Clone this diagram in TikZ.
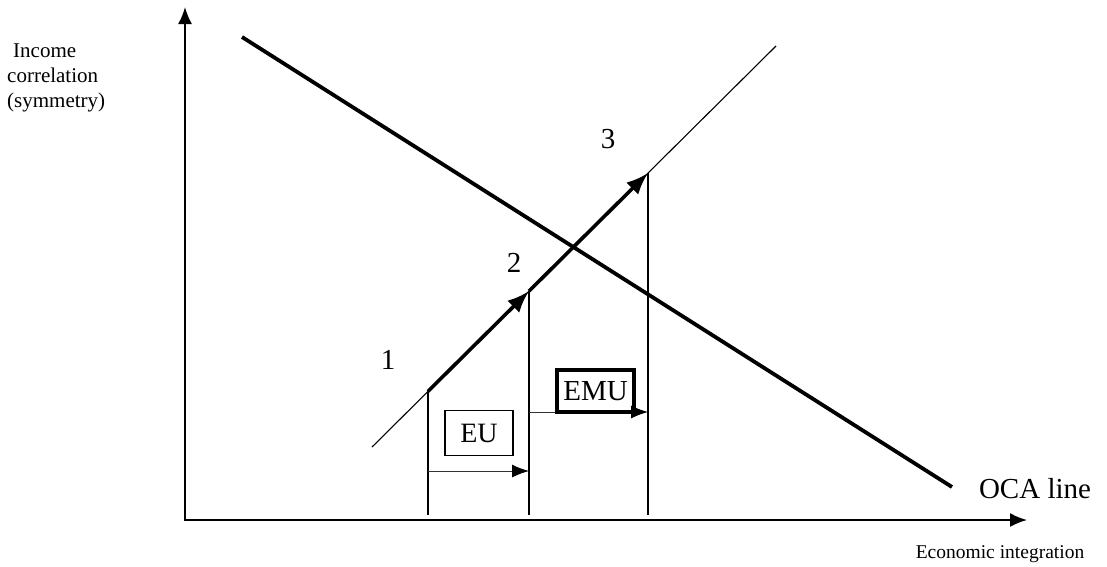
\documentclass[tikz,border=0pt]{standalone}
\usepackage{fontspec}
\setmainfont{Liberation Serif}
\usetikzlibrary{arrows.meta}
\begin{document}
\begin{tikzpicture}[x=1pt,y=-1pt,
  axis/.style={line width=1.8pt,-{Latex[length=17pt,width=14pt]}},
  ocaline/.style={line width=3.8pt},
  thinline/.style={line width=1.1pt},
  fatarrow/.style={line width=3.6pt,-{Latex[length=22pt,width=17pt]}},
  vline/.style={line width=1.5pt},
  smallarrow/.style={line width=1pt,black!80,-{Latex[length=17pt,width=13pt,color=black]}},
  axlabel/.style={font=\fontsize{21}{25}\selectfont,inner sep=0pt},
  xlabelstyle/.style={font=\fontsize{19.5}{23}\selectfont,inner sep=0pt},
  biglabel/.style={font=\fontsize{29}{33}\selectfont,inner sep=0pt},
  eubox/.style={draw,line width=1.3pt,minimum width=68pt,minimum height=45pt,inner sep=0pt,font=\fontsize{28}{32}\selectfont},
  emubox/.style={draw,line width=3.4pt,minimum width=77pt,minimum height=42pt,inner sep=0pt,font=\fontsize{29}{33}\selectfont}
]
\useasboundingbox (0,0) rectangle (1107,566);
% axes
\coordinate (O) at (185,520);
\coordinate (ytop) at (185,7);
\coordinate (xend) at (1027,520);
\draw[axis] ([yshift=0.9pt]O) -- (ytop);
\draw[axis] ([xshift=-0.9pt]O) -- (xend);
% OCA line
\coordinate (oca1) at (242,37);
\coordinate (oca2) at (952,487);
\draw[ocaline] (oca1) -- (oca2);
% 45 degree thin line
\coordinate (d1) at (372,447);
\coordinate (d2) at (776,46);
\draw[thinline] (d1) -- (d2);
% points on the path
\coordinate (p1) at (428,391.3);
\coordinate (p2) at (529,291.1);
\coordinate (p3) at (648,173);
\draw[fatarrow] (p1) -- (p2);
\draw[fatarrow] (p2) -- (p3);
% verticals
\coordinate (b1) at (428,515);
\coordinate (b2) at (529,515);
\coordinate (b3) at (648,515);
\draw[vline] (p1) -- (b1);
\draw[vline] (p2) -- (b2);
\draw[vline] (p3) -- (b3);
% small arrows
\coordinate (eu1) at (428,471);
\coordinate (emu1) at (529,412);
\draw[smallarrow] (eu1) -- (eu1 -| b2);
\draw[smallarrow] (emu1) -- (emu1 -| b3);
% boxes
\node[eubox] (eu) at (479,433) {EU};
\node[emubox] (emu) at (595.5,391) {EMU};
% numbers
\node[biglabel] (n1) at (388,360) {1};
\node[biglabel] (n2) at (514,263) {2};
\node[biglabel] (n3) at (608,139) {3};
% labels
\node[biglabel,anchor=base] (oca) at (1035,498) {OCA line};
\node[xlabelstyle,anchor=base] (xlab) at (1000,558) {Economic integration};
\node[axlabel,anchor=base west] (yl1) at (13,57) {Income};
\node[axlabel,anchor=base west] (yl2) at (7,82) {correlation};
\node[axlabel,anchor=base west] (yl3) at (7,107) {(symmetry)};
\end{tikzpicture}
\end{document}
